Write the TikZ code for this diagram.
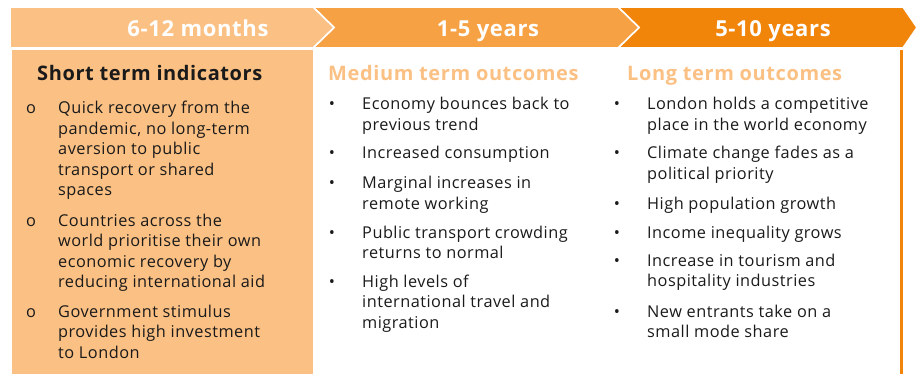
\documentclass[tikz,border=0pt]{standalone}
\usepackage{fontspec}
\setmainfont{Open Sans}[LetterSpace=3]
\definecolor{peach}{HTML}{FBC083}
\definecolor{midor}{HTML}{F6A143}
\definecolor{darkor}{HTML}{F0850A}
\definecolor{ink}{HTML}{1A1A1A}
\newcommand{\bodyfont}{\fontsize{16.3}{20.5}\selectfont}
\newcommand{\lines}[1]{\begin{tabular}[t]{@{}l@{}}#1\end{tabular}}
\begin{document}
\begin{tikzpicture}[x=1pt,y=-1pt,
  chev/.style={draw=white,line width=1.6pt,line join=miter},
  headtxt/.style={text=white,font=\fontsize{22}{24}\selectfont\bfseries,inner sep=0,anchor=base},
  colhead/.style={font=\fontsize{20}{22}\selectfont\bfseries,inner sep=0,anchor=base west},
  item/.style={text=ink,font=\bodyfont,inner sep=0,anchor=base west},
  bul/.style={text=ink,font=\bodyfont,inner sep=0,anchor=base}]
\useasboundingbox (0,0) rectangle (918,374);
% chevrons
\path[chev,fill=darkor] (618,7) -- (903,7) -- (917,27.5) -- (903,48) -- (618,48) -- (639,27.5) -- cycle;
\path[chev,fill=midor] (313,7) -- (618,7) -- (639,27.5) -- (618,48) -- (313,48) -- (334,27.5) -- cycle;
\path[chev,fill=peach] (10,7) -- (313,7) -- (334,27.5) -- (313,48) -- (10,48) -- cycle;
\node[headtxt] (h1) at (198,37) {6-12 months};
\node[headtxt] (h2) at (488,37) {1-5 years};
\node[headtxt] (h3) at (773,37) {5-10 years};
% body
\fill[peach] (12,50) rectangle (313,374);
\fill[darkor] (900,50) rectangle (903,374);
% column headings
\node[colhead,text=ink] (c1) at (37,81) {Short term indicators};
\node[colhead,text=peach] (c2) at (328,81) {Medium term outcomes};
\node[colhead,text=peach] (c3) at (627,81) {Long term outcomes};
% left items
\node[bul] (lb1) at (31,114) {o};
\node[item] (l1) at (58,114) {\lines{Quick recovery from the\\pandemic, no long-term\\aversion to public\\transport or shared\\spaces}};
\node[bul] (lb2) at (31,226) {o};
\node[item] (l2) at (58,226) {\lines{Countries across the\\world prioritise their own\\economic recovery by\\reducing international aid}};
\node[bul] (lb3) at (31,317) {o};
\node[item] (l3) at (58,317) {\lines{Government stimulus\\provides high investment\\to London}};
% middle items
\node[bul] (mb1) at (332,110) {•};
\node[item] (m1) at (362,110) {\lines{Economy bounces back to\\previous trend}};
\node[bul] (mb2) at (332,159) {•};
\node[item] (m2) at (362,159) {\lines{Increased consumption}};
\node[bul] (mb3) at (332,189) {•};
\node[item] (m3) at (362,189) {\lines{Marginal increases in\\remote working}};
\node[bul] (mb4) at (332,238) {•};
\node[item] (m4) at (362,238) {\lines{Public transport crowding\\returns to normal}};
\node[bul] (mb5) at (332,287) {•};
\node[item] (m5) at (362,287) {\lines{High levels of\\international travel and\\migration}};
% right items
\node[bul] (rb1) at (617,110) {•};
\node[item] (r1) at (647,110) {\lines{London holds a competitive\\place in the world economy}};
\node[bul] (rb2) at (617,159) {•};
\node[item] (r2) at (647,159) {\lines{Climate change fades as a\\political priority}};
\node[bul] (rb3) at (617,210) {•};
\node[item] (r3) at (647,210) {\lines{High population growth}};
\node[bul] (rb4) at (617,238) {•};
\node[item] (r4) at (647,238) {\lines{Income inequality grows}};
\node[bul] (rb5) at (617,266) {•};
\node[item] (r5) at (647,266) {\lines{Increase in tourism and\\hospitality industries}};
\node[bul] (rb6) at (617,317) {•};
\node[item] (r6) at (647,317) {\lines{New entrants take on a\\small mode share}};
\end{tikzpicture}
\end{document}
